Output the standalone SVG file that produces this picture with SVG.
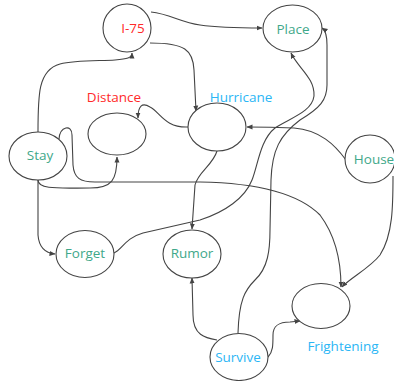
<svg xmlns="http://www.w3.org/2000/svg" width="394" height="381" viewBox="0 0 394 381">
<style>
.n ellipse{fill:#fff;stroke:#444;stroke-width:1.1}
.e path{fill:none;stroke:#444;stroke-width:1.1;marker-end:url(#a)}
text{font-family:"Open Sans","Noto Sans",sans-serif;font-size:13.5px;text-anchor:middle}
.g{fill:#3fa88a}.r{fill:#ff2a2a}.b{fill:#2bb6f5}
</style>
<defs>
<marker id="a" viewBox="0 0 6 6" refX="5.5" refY="3" markerWidth="6" markerHeight="6" orient="auto" markerUnits="userSpaceOnUse">
<path d="M0,0.5 L6,3 L0,5.5 Z" fill="#444"/>
</marker>
</defs>
<rect width="394" height="381" fill="#fff"/>
<g class="e">
<path d="M38,132 C38,95 38,70 60,64 C75,60 100,61 115,60 C127,59 132,58 132,53"/>
<path d="M151,12 C170,14 180,22 200,25 C220,28 245,28 262,28"/>
<path d="M150,43 C185,43 193,50 194,70 L196,111"/>
<path d="M188,127 C165,128 160,112 150,107 C142,102 138,106 138,118"/>
<path d="M38,180 C38,190 60,188 90,188 C112,188 117,180 117,157"/>
<path d="M38,180 L38,235 C39,248 45,253 55,254"/>
<path d="M59,139 C60,126 72,124 72,135 L73,165 C74,178 80,182 95,182 L200,182 C260,183 300,195 320,215 C335,235 341,260 341,287"/>
<path d="M114,253 C122,250 125,238 143,233 L200,220 C225,212 245,198 252,180 C258,165 260,140 275,128 C290,118 312,112 314,96 C315,78 298,68 291,53"/>
<path d="M238,333 C239,300 245,290 255,280 C268,268 270,250 270,230 L271,180 C272,150 280,135 300,120 C320,108 327,100 327,85 L327,45 C327,35 325,30 322,28"/>
<path d="M217,151 C213,165 198,172 195,185 L192,229"/>
<path d="M346,160 C335,145 320,130 294,128 C270,127 255,127 247,127"/>
<path d="M393,176 C393,205 393,235 380,255 C370,268 350,278 342,287"/>
<path d="M217,340 C205,338 193,335 193,315 L192,278"/>
<path d="M268,357 C273,352 273,345 273,335 C273,326 278,322 290,322 L300,321"/>
</g>
<g id="i75" class="n"><ellipse cx="127" cy="28" rx="24" ry="24"/><text x="133" y="33" class="r">I-75</text></g>
<g id="place" class="n"><ellipse cx="292.5" cy="28.5" rx="29.5" ry="23.5"/><text x="293" y="34" class="g">Place</text></g>
<g id="distance" class="n"><ellipse cx="117" cy="134" rx="29" ry="21"/><text x="114" y="102" class="r">Distance</text></g>
<g id="hurricane" class="n"><ellipse cx="217" cy="127" rx="29" ry="24"/><text x="241" y="102" class="b">Hurricane</text></g>
<g id="stay" class="n"><ellipse cx="38" cy="156" rx="29" ry="24"/><text x="40" y="160" class="g">Stay</text></g>
<g id="house" class="n"><ellipse cx="370" cy="159" rx="25" ry="24"/><text x="374" y="164" class="g">House</text></g>
<g id="forget" class="n"><ellipse cx="85" cy="254" rx="29" ry="23.5"/><text x="85" y="258" class="g">Forget</text></g>
<g id="rumor" class="n"><ellipse cx="192" cy="254" rx="29" ry="24"/><text x="192" y="258" class="g">Rumor</text></g>
<g id="frightening" class="n"><ellipse cx="321" cy="306" rx="29" ry="22.5"/><text x="343" y="351" class="b">Frightening</text></g>
<g id="survive" class="n"><ellipse cx="239" cy="357" rx="29" ry="23.5"/><text x="238" y="362" class="b">Survive</text></g>
</svg>
